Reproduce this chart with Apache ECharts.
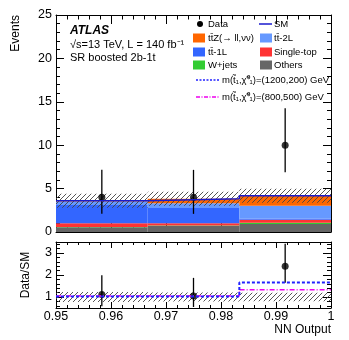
<!DOCTYPE html>
<html>
<head>
<meta charset="utf-8">
<script src="https://cdn.jsdelivr.net/npm/echarts@6/dist/echarts.min.js"></script>
<style>
  html, body { margin: 0; padding: 0; background: #fff; }
  #chart { width: 349px; height: 340px; }
</style>
</head>
<body>
<div id="chart"></div>
<script>
// bins of the NN output
const binEdges = [0.95, 0.966667, 0.983333, 1];

// background stack, bottom to top
const others = [0.55, 0.70, 0.92];
const wjets = [0.03, 0.06, 0.15];
const singleTop = [0.42, 0.25, 0.33];
const ttbar1L = [2.10, 1.75, 0.12];
const ttbar2L = [0.42, 0.55, 1.50];
const ttZ = [0.08, 0.52, 1.15];
const bkgUnc = [0.80, 0.80, 0.80];

// data
const dataCounts = [4, 4, 10];
const dataErrUp = [3.16, 3.16, 4.27];
const dataErrDn = [1.91, 1.91, 3.11];

// signal / SM ratio
const ratioSig1200 = [1.02, 1.02, 1.66];
const ratioSig800 = [1.04, 1.04, 1.33];

const FONT = 'Liberation Sans, Arial, Helvetica, sans-serif';

const procs = [
  {name: 'Others', vals: others, color: '#666666'},
  {name: 'W+jets', vals: wjets, color: '#33cc33'},
  {name: 'Single-top', vals: singleTop, color: '#ff3333'},
  {name: 'tt-1L', vals: ttbar1L, color: '#3366ff'},
  {name: 'tt-2L', vals: ttbar2L, color: '#6699ff'},
  {name: 'ttZ', vals: ttZ, color: '#ff6600'}
];

const nBins = dataCounts.length;
const centers = [];
for (let i = 0; i < nBins; i++) centers.push((binEdges[i] + binEdges[i + 1]) / 2);

// hatch pattern
const hatch = document.createElement('canvas');
hatch.width = 5; hatch.height = 5;
(function() {
  const c = hatch.getContext('2d');
  c.strokeStyle = '#444';
  c.lineWidth = 0.9;
  c.beginPath();
  c.moveTo(-1, 6); c.lineTo(6, -1);
  c.moveTo(-1, 1); c.lineTo(1, -1);
  c.moveTo(4, 6); c.lineTo(6, 4);
  c.stroke();
})();

function rectItem(fill) {
  return function(params, api) {
    const p0 = api.coord([api.value(0), api.value(2)]);
    const p1 = api.coord([api.value(1), api.value(3)]);
    return {
      type: 'rect',
      shape: {x: p0[0], y: p1[1], width: p1[0] - p0[0], height: p0[1] - p1[1]},
      style: {fill: fill}
    };
  };
}

function errItem(params, api) {
  const top = api.coord([api.value(0), api.value(1)]);
  const bot = api.coord([api.value(0), api.value(2)]);
  return {
    type: 'line',
    shape: {x1: top[0], y1: top[1], x2: bot[0], y2: bot[1]},
    style: {stroke: '#000', lineWidth: 1.3}
  };
}

function stepData(vals) {
  const d = [];
  for (let i = 0; i < nBins; i++) d.push([binEdges[i], vals[i]]);
  d.push([binEdges[nBins], vals[nBins - 1]]);
  return d;
}

const series = [];
const base = [0, 0, 0];
procs.forEach(p => {
  const d = [];
  for (let i = 0; i < nBins; i++) {
    d.push([binEdges[i], binEdges[i + 1], base[i], base[i] + p.vals[i]]);
    base[i] += p.vals[i];
  }
  series.push({type: 'custom', name: p.name, xAxisIndex: 0, yAxisIndex: 0,
    encode: {x: [0, 1], y: [2, 3]},
    renderItem: rectItem(p.color), data: d, silent: true});
});
const total = base.slice();

const bandMain = [], bandRatio = [];
for (let i = 0; i < nBins; i++) {
  bandMain.push([binEdges[i], binEdges[i + 1], total[i] - bkgUnc[i], total[i] + bkgUnc[i]]);
  bandRatio.push([binEdges[i], binEdges[i + 1], 1 - bkgUnc[i] / total[i], 1 + bkgUnc[i] / total[i]]);
}
series.push({type: 'custom', xAxisIndex: 0, yAxisIndex: 0, encode: {x: [0, 1], y: [2, 3]},
  renderItem: rectItem({image: hatch, repeat: 'repeat'}), data: bandMain, silent: true});
series.push({type: 'line', xAxisIndex: 0, yAxisIndex: 0, step: 'end', data: stepData(total),
  symbol: 'none', lineStyle: {color: '#1a1acc', width: 1.6}, silent: true});

const errMain = [], ptsMain = [], errRatio = [], ptsRatio = [];
for (let i = 0; i < nBins; i++) {
  errMain.push([centers[i], dataCounts[i] + dataErrUp[i], dataCounts[i] - dataErrDn[i]]);
  ptsMain.push([centers[i], dataCounts[i]]);
  errRatio.push([centers[i], (dataCounts[i] + dataErrUp[i]) / total[i], (dataCounts[i] - dataErrDn[i]) / total[i]]);
  ptsRatio.push([centers[i], dataCounts[i] / total[i]]);
}
series.push({type: 'custom', xAxisIndex: 0, yAxisIndex: 0, encode: {x: 0, y: [1, 2]},
  renderItem: errItem, data: errMain, silent: true});
series.push({type: 'scatter', xAxisIndex: 0, yAxisIndex: 0, data: ptsMain, symbolSize: 7,
  itemStyle: {color: '#000'}, silent: true});

// ratio panel
series.push({type: 'custom', xAxisIndex: 2, yAxisIndex: 2, encode: {x: [0, 1], y: [2, 3]},
  renderItem: rectItem({image: hatch, repeat: 'repeat'}), data: bandRatio, silent: true});
series.push({type: 'line', xAxisIndex: 2, yAxisIndex: 2, step: 'end', data: stepData(ratioSig800),
  symbol: 'none', lineStyle: {color: '#ee00ee', width: 1.5, type: [5, 2, 1, 2]}, silent: true});
series.push({type: 'line', xAxisIndex: 2, yAxisIndex: 2, step: 'end', data: stepData(ratioSig1200),
  symbol: 'none', lineStyle: {color: '#2222ff', width: 2, type: [3, 2]}, silent: true});
series.push({type: 'custom', xAxisIndex: 2, yAxisIndex: 2, encode: {x: 0, y: [1, 2]},
  renderItem: errItem, data: errRatio, silent: true});
series.push({type: 'scatter', xAxisIndex: 2, yAxisIndex: 2, data: ptsRatio, symbolSize: 7,
  itemStyle: {color: '#000'}, silent: true});

function xAx(grid, pos, labels) {
  return {
    type: 'value', gridIndex: grid, position: pos, min: 0.95, max: 1, interval: 0.01,
    axisLine: {show: true, onZero: false, lineStyle: {color: '#000', width: 1}},
    axisTick: {show: true, inside: true, length: grid === 0 ? 9 : 6, lineStyle: {color: '#000'}},
    minorTick: {show: true, splitNumber: 5, length: grid === 0 ? 4.5 : 3, lineStyle: {color: '#000'}},
    splitLine: {show: false},
    axisLabel: {show: labels, color: '#000', fontFamily: FONT, fontSize: 12.5, margin: 2,
      formatter: v => (Math.abs(v - 1) < 1e-9 ? '1' : v.toFixed(2))}
  };
}
function yAx(grid, pos, labels, extra) {
  return Object.assign({
    type: 'value', gridIndex: grid, position: pos,
    axisLine: {show: true, onZero: false, lineStyle: {color: '#000', width: 1}},
    axisTick: {show: true, inside: true, length: 8, lineStyle: {color: '#000'}},
    minorTick: {show: true, splitNumber: 5, length: 4, lineStyle: {color: '#000'}},
    splitLine: {show: false},
    axisLabel: {show: labels, color: '#000', fontFamily: FONT, fontSize: 12.5, margin: 4}
  }, extra);
}

const mainY = {min: 0, max: 25, interval: 5};
const ratioY = {min: 0.5, max: 3.5, splitNumber: 3};

const legendText = {fontFamily: FONT, fontSize: 9.5, fill: '#000', verticalAlign: 'middle'};
function lt(x, y, t) { return {type: 'text', x: x, y: y, style: Object.assign({text: t}, legendText), silent: true}; }
function sw(x, y, c) { return {type: 'rect', shape: {x: x, y: y - 4.5, width: 12, height: 9}, style: {fill: c}, silent: true}; }

const graphics = [
  {type: 'text', x: 70, y: 31, style: {text: 'ATLAS', fontFamily: FONT, fontSize: 12, fontWeight: 'bold', fontStyle: 'italic', fill: '#000', verticalAlign: 'middle'}},
  {type: 'text', x: 70, y: 45, style: {text: '√s=13 TeV, L = 140 fb⁻¹', fontFamily: FONT, fontSize: 11, fill: '#000', verticalAlign: 'middle'}},
  {type: 'text', x: 70, y: 58, style: {text: 'SR boosted 2b-1t', fontFamily: FONT, fontSize: 11, fill: '#000', verticalAlign: 'middle'}},
  {type: 'text', x: 16, y: 15, rotation: Math.PI / 2, style: {text: 'Events', fontFamily: FONT, fontSize: 12, fill: '#000', align: 'right', verticalAlign: 'middle'}},
  {type: 'text', x: 26, y: 275, rotation: Math.PI / 2, style: {text: 'Data/SM', fontFamily: FONT, fontSize: 12, fill: '#000', align: 'center', verticalAlign: 'middle'}},
  {type: 'text', x: 331, y: 330, style: {text: 'NN Output', fontFamily: FONT, fontSize: 12, fill: '#000', align: 'right', verticalAlign: 'middle'}},
  // legend
  {type: 'circle', shape: {cx: 200, cy: 24, r: 3}, style: {fill: '#000'}, silent: true},
  lt(208, 24, 'Data'),
  {type: 'line', shape: {x1: 259, y1: 24, x2: 272, y2: 24}, style: {stroke: '#1a1acc', lineWidth: 1.5}, silent: true},
  lt(274, 24, 'SM'),
  sw(193, 38, '#ff6600'), lt(208, 38, 'tt̄Z(→ ll,νν)'),
  sw(260, 38, '#6699ff'), lt(274, 38, 'tt̄-2L'),
  sw(193, 52, '#3366ff'), lt(208, 52, 'tt̄-1L'),
  sw(260, 52, '#ff3333'), lt(274, 52, 'Single-top'),
  sw(193, 65, '#33cc33'), lt(208, 65, 'W+jets'),
  sw(260, 65, '#666666'), lt(274, 65, 'Others'),
  {type: 'line', shape: {x1: 196, y1: 80, x2: 219, y2: 80}, style: {stroke: '#2222ff', lineWidth: 1.5, lineDash: [2, 1.5]}, silent: true},
  lt(222, 80, 'm(t̃₁,χ̃⁰₁)=(1200,200) GeV'),
  {type: 'line', shape: {x1: 196, y1: 97, x2: 219, y2: 97}, style: {stroke: '#ee00ee', lineWidth: 1.3, lineDash: [4, 1.5, 1, 1.5]}, silent: true},
  lt(222, 97, 'm(t̃₁,χ̃⁰₁)=(800,500) GeV')
];

const chart = echarts.init(document.getElementById('chart'), null, {renderer: 'canvas'});
chart.setOption({
  animation: false,
  backgroundColor: '#fff',
  grid: [
    {left: 56, width: 275, top: 15, height: 217},
    {left: 56, width: 275, top: 242, height: 66}
  ],
  xAxis: [xAx(0, 'bottom', false), xAx(0, 'top', false), xAx(1, 'bottom', true), xAx(1, 'top', false)],
  yAxis: [
    yAx(0, 'left', true, mainY),
    yAx(0, 'right', false, mainY),
    yAx(1, 'left', true, Object.assign({axisLabel: {show: true, color: '#000', fontFamily: FONT, fontSize: 12.5, margin: 4, showMinLabel: false, showMaxLabel: false}}, ratioY)),
    yAx(1, 'right', false, ratioY)
  ],
  series: series,
  graphic: graphics
});
</script>
</body>
</html>
